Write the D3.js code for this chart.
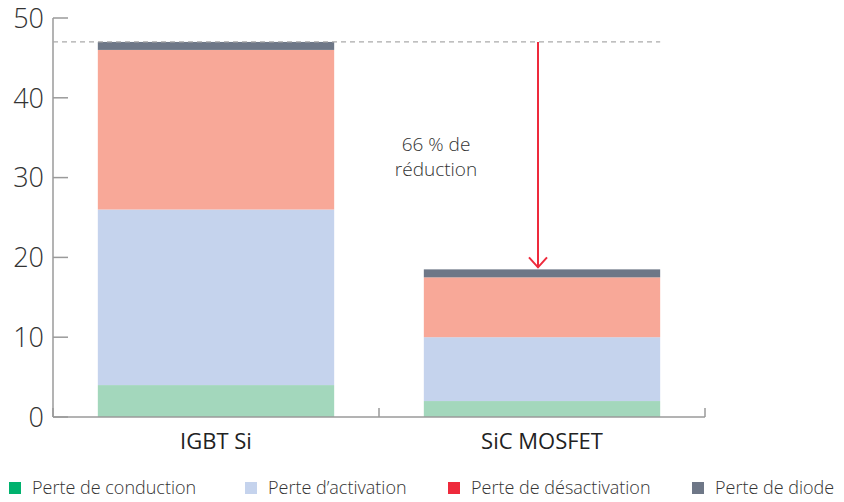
<!DOCTYPE html>
<html>
<head>
<meta charset="utf-8">
<script src="https://cdn.jsdelivr.net/npm/d3@7"></script>
<style>
  body { margin: 0; background: #fff; }
  text { font-family: "Open Sans", sans-serif; }
</style>
</head>
<body>
<div id="chart"></div>
<script>
(function () {

  // Data
  const categories = ["IGBT Si", "SiC MOSFET"]
  const series = ["Perte de conduction", "Perte d\u2019activation", "Perte de désactivation", "Perte de diode"]
  const conduction = [4, 2]
  const activation = [22, 8]
  const desactivation = [20, 7.5]
  const diode = [1, 1]
  const yTicks = [0, 10, 20, 30, 40, 50]
  const noteLines = ["66 % de", "réduction"]

  const barColors = ["#a3d7bc", "#c5d3ed", "#f8a898", "#6e7787"]
  const legendColors = ["#00b26e", "#c5d3ed", "#ee2a3c", "#6e7787"]

  const width = 844
  const height = 502

  const svg = d3.select("#chart").append("svg")
      .attr("width", width)
      .attr("height", height)

  const x = d3.scaleBand()
    .domain(categories)
    .range([53, 705])

  const y = d3.scaleLinear()
    .domain([0, 50])
    .range([417, 18])

  const rows = categories.map((c, i) => ({
    cat: c,
    [series[0]]: conduction[i],
    [series[1]]: activation[i],
    [series[2]]: desactivation[i],
    [series[3]]: diode[i]
  }))
  const stacked = d3.stack().keys(series)(rows)

  const barW = x.bandwidth() * 0.725

  // Bars
  svg.selectAll("g.layer")
    .data(stacked)
    .join("g")
    .attr("class", "layer")
    .attr("fill", (d, i) => barColors[i])
    .selectAll("rect")
    .data(d => d)
    .join("rect")
    .attr("x", d => x(d.data.cat) + (x.bandwidth() - barW) / 2)
    .attr("width", barW)
    .attr("y", d => y(d[1]))
    .attr("height", d => y(d[0]) - y(d[1]))

  // Y axis
  const yAxis = svg.append("g")
  yAxis.append("line")
    .attr("x1", 53).attr("x2", 53)
    .attr("y1", y(50)).attr("y2", y(0))
    .attr("stroke", "#9a9a9a").attr("stroke-width", 1.5)
  yAxis.selectAll("line.tick")
    .data(yTicks)
    .join("line")
    .attr("class", "tick")
    .attr("x1", 53).attr("x2", 68)
    .attr("y1", d => y(d)).attr("y2", d => y(d))
    .attr("stroke", "#9a9a9a").attr("stroke-width", 1.5)
  yAxis.selectAll("text")
    .data(yTicks)
    .join("text")
    .attr("x", 44)
    .attr("y", d => y(d))
    .attr("dy", "0.36em")
    .attr("text-anchor", "end")
    .attr("font-size", 27)
    .attr("font-weight", 300)
    .attr("fill", "#333")
    .text(d => d)

  // X axis
  const xAxis = svg.append("g")
  xAxis.append("line")
    .attr("x1", 53).attr("x2", 705)
    .attr("y1", y(0)).attr("y2", y(0))
    .attr("stroke", "#9a9a9a").attr("stroke-width", 1.5)
  const bounds = categories.map(c => x(c)).concat([x.range()[1]])
  xAxis.selectAll("line.tick")
    .data(bounds)
    .join("line")
    .attr("class", "tick")
    .attr("x1", d => d).attr("x2", d => d)
    .attr("y1", y(0) - 9).attr("y2", y(0))
    .attr("stroke", "#9a9a9a").attr("stroke-width", 1.5)
  xAxis.selectAll("text")
    .data(categories)
    .join("text")
    .attr("x", d => x(d) + x.bandwidth() / 2)
    .attr("y", 449)
    .attr("text-anchor", "middle")
    .attr("font-size", 22)
    .attr("fill", "#222")
    .text(d => d)

  // Reference dashed line at IGBT total
  const totals = categories.map((c, i) => conduction[i] + activation[i] + desactivation[i] + diode[i])
  const sicX = x(categories[1]) + x.bandwidth() / 2 - 4
  svg.append("line")
    .attr("x1", 53).attr("x2", x(categories[1]) + (x.bandwidth() + barW) / 2)
    .attr("y1", y(totals[0])).attr("y2", y(totals[0]))
    .attr("stroke", "#aaa").attr("stroke-width", 1.3)
    .attr("stroke-dasharray", "5,4")

  // Arrow
  svg.append("line")
    .attr("x1", sicX).attr("x2", sicX)
    .attr("y1", y(totals[0])).attr("y2", y(totals[1]) - 2)
    .attr("stroke", "#ee2a3c").attr("stroke-width", 2)
  svg.append("path")
    .attr("d", `M${sicX - 9},${y(totals[1]) - 12} L${sicX},${y(totals[1]) - 2} L${sicX + 9},${y(totals[1]) - 12}`)
    .attr("fill", "none")
    .attr("stroke", "#ee2a3c").attr("stroke-width", 2)

  // Annotation
  svg.selectAll("text.note")
    .data(noteLines)
    .join("text")
    .attr("class", "note")
    .attr("x", 436)
    .attr("y", (d, i) => 144 + i * 25)
    .attr("dy", "0.36em")
    .attr("text-anchor", "middle")
    .attr("font-size", 19)
    .attr("font-weight", 300)
    .attr("fill", "#333")
    .text(d => d)

  // Legend
  const legendX = [9, 245, 448, 692]
  const legend = svg.selectAll("g.legend")
    .data(series)
    .join("g")
    .attr("class", "legend")
    .attr("transform", (d, i) => `translate(${legendX[i]},488)`)
  legend.append("rect")
    .attr("x", 0).attr("y", -6)
    .attr("width", 12).attr("height", 12)
    .attr("fill", (d, i) => legendColors[i])
  legend.append("text")
    .attr("x", 23)
    .attr("y", 0)
    .attr("dy", "0.36em")
    .attr("font-size", 18)
    .attr("font-weight", 300)
    .attr("fill", "#333")
    .text(d => d)

})();
</script>
</body>
</html>
